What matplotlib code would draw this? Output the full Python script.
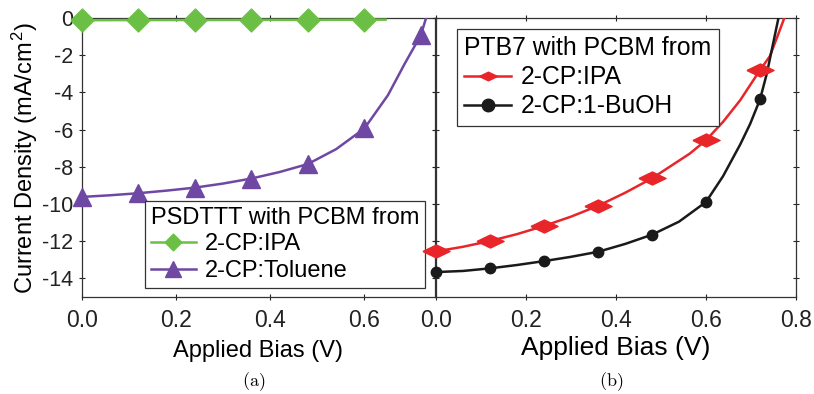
import matplotlib
matplotlib.use("Agg")
import matplotlib.pyplot as plt
from matplotlib.lines import Line2D

plt.rcParams['font.family'] = ['Liberation Sans', 'DejaVu Sans']
plt.rcParams['axes.unicode_minus'] = False
plt.rcParams['mathtext.fontset'] = 'cm'

# ---- Panel (a): PSDTTT with PCBM ----
v_ipa_a = [0.0, 0.12, 0.24, 0.36, 0.48, 0.60, 0.645]
j_ipa_a = [-0.12, -0.11, -0.11, -0.10, -0.10, -0.09, -0.09]
v_ipa_a_mk = [0.0, 0.12, 0.24, 0.36, 0.48, 0.60]
j_ipa_a_mk = [-0.12, -0.11, -0.11, -0.10, -0.10, -0.09]

v_tol = [0.0, 0.06, 0.12, 0.18, 0.24, 0.30, 0.36, 0.42, 0.48, 0.54, 0.60, 0.65, 0.686, 0.72, 0.731]
j_tol = [-9.62, -9.53, -9.42, -9.28, -9.12, -8.90, -8.63, -8.28, -7.85, -7.05, -5.94, -4.15, -2.44, -0.92, 0.0]
v_tol_mk = [0.0, 0.12, 0.24, 0.36, 0.48, 0.60, 0.72]
j_tol_mk = [-9.62, -9.42, -9.12, -8.63, -7.85, -5.94, -0.92]

# ---- Panel (b): PTB7 with PCBM ----
v_ipa_b = [0.0, 0.06, 0.12, 0.18, 0.24, 0.30, 0.36, 0.42, 0.48, 0.564, 0.60, 0.638, 0.676, 0.72, 0.742, 0.764, 0.774]
j_ipa_b = [-12.55, -12.30, -11.99, -11.62, -11.18, -10.68, -10.10, -9.40, -8.62, -7.29, -6.57, -5.58, -4.42, -2.80, -2.05, -0.65, 0.0]
v_ipa_b_mk = [0.0, 0.12, 0.24, 0.36, 0.48, 0.60, 0.72]
j_ipa_b_mk = [-12.55, -11.99, -11.18, -10.10, -8.62, -6.57, -2.80]

v_buoh = [0.0, 0.06, 0.12, 0.18, 0.24, 0.30, 0.36, 0.42, 0.48, 0.54, 0.60, 0.638, 0.676, 0.698, 0.72, 0.735, 0.75, 0.761]
j_buoh = [-13.66, -13.60, -13.46, -13.28, -13.07, -12.84, -12.57, -12.15, -11.65, -10.95, -9.89, -8.50, -6.80, -5.70, -4.38, -3.00, -1.27, 0.0]
v_buoh_mk = [0.0, 0.12, 0.24, 0.36, 0.48, 0.60, 0.72]
j_buoh_mk = [-13.66, -13.46, -13.07, -12.57, -11.65, -9.89, -4.38]

xticks_a = [0.0, 0.2, 0.4, 0.6]
xticks_b = [0.0, 0.2, 0.4, 0.6, 0.8]
yticks = [0, -2, -4, -6, -8, -10, -12, -14]

green = '#6cbf45'
purple = '#6f48a3'
red = '#e8262a'
black = '#1a1a1a'

diamond = [(-1, 0), (0, 1), (1, 0), (0, -1), (-1, 0)]
wide_diamond = [(-1, 0), (0, 0.48), (1, 0), (0, -0.48), (-1, 0)]

fig = plt.figure(figsize=(8.14, 3.94), dpi=100)
ax1 = fig.add_axes([0.1007, 0.2462, 0.4337, 0.7081])
ax2 = fig.add_axes([0.5356, 0.2462, 0.4423, 0.7081])

for ax in (ax1, ax2):
    ax.set_ylim(-15, 0)
    ax.set_yticks(yticks)
    ax.tick_params(direction='inout', length=5, width=0.8, top=True, right=True,
                   colors='#222222')
    ax.tick_params(axis='x', labelsize=16.5, pad=6)
    ax.tick_params(axis='y', labelsize=15.5, pad=4)
    for s in ax.spines.values():
        s.set_linewidth(0.9)
        s.set_color('#333333')

ax1.set_xlim(0, 0.75)
ax1.set_xticks(xticks_a)
ax1.set_xticklabels([f"{t:.1f}" for t in xticks_a])
ax1.set_yticklabels([str(t) for t in yticks])
ax1.set_ylabel('Current Density (mA/cm$^\\mathregular{2}$)', fontsize=17)
ax1.yaxis.set_label_coords(-0.118, 0.5)
ax1.set_xlabel('Applied Bias (V)', fontsize=17, labelpad=6)

ax2.set_xlim(0, 0.8)
ax2.set_xticks(xticks_b)
ax2.set_xticklabels([f"{t:.1f}" for t in xticks_b])
ax2.tick_params(labelleft=False)
ax2.set_xlabel('Applied Bias (V)', fontsize=19, labelpad=3)

lw = 1.8
ax1.plot(v_ipa_a, j_ipa_a, color=green, lw=lw, zorder=3)
ax1.plot(v_ipa_a_mk, j_ipa_a_mk, ls='none', marker=diamond, ms=16.5, color=green,
         mec=green, clip_on=False, zorder=4)
ax1.plot(v_tol, j_tol, color=purple, lw=lw, zorder=3)
ax1.plot(v_tol_mk, j_tol_mk, ls='none', marker='^', ms=13, color=purple,
         clip_on=False, zorder=4)

ax2.plot(v_ipa_b, j_ipa_b, color=red, lw=lw, zorder=3)
ax2.plot(v_ipa_b_mk, j_ipa_b_mk, ls='none', marker=wide_diamond, ms=19.5, color=red,
         clip_on=False, zorder=4)
ax2.plot(v_buoh, j_buoh, color=black, lw=lw, zorder=3)
ax2.plot(v_buoh_mk, j_buoh_mk, ls='none', marker='o', ms=7.5, color=black,
         clip_on=False, zorder=4)

h1 = [Line2D([], [], color=green, lw=lw, marker=diamond, ms=12),
      Line2D([], [], color=purple, lw=lw, marker='^', ms=11)]
leg1 = ax1.legend(h1, ['2-CP:IPA', '2-CP:Toluene'], title='PSDTTT with PCBM from',
                  loc='lower right', bbox_to_anchor=(0.972, 0.032), fontsize=17,
                  title_fontsize=17, alignment='left', fancybox=False, framealpha=1,
                  edgecolor='#333333', borderpad=0.25, labelspacing=0.2,
                  handlelength=1.9, handletextpad=0.4, borderaxespad=0)
leg1.get_frame().set_linewidth(0.9)
leg1.set_zorder(5)

h2 = [Line2D([], [], color=red, lw=lw, marker=wide_diamond, ms=13),
      Line2D([], [], color=black, lw=lw, marker='o', ms=9)]
leg2 = ax2.legend(h2, ['2-CP:IPA', '2-CP:1-BuOH'], title='PTB7 with PCBM from',
                  loc='upper left', bbox_to_anchor=(0.058, 0.961), fontsize=17.8,
                  title_fontsize=17.8, alignment='left', fancybox=False, framealpha=1,
                  edgecolor='#333333', borderpad=0.3, labelspacing=0.2,
                  handlelength=1.9, handletextpad=0.4, borderaxespad=0)
leg2.get_frame().set_linewidth(0.9)

fig.text(254 / 814, 1 - 382 / 394, r'$\mathrm{(a)}$', ha='center', va='center', fontsize=13)
fig.text(611 / 814, 1 - 382 / 394, r'$\mathrm{(b)}$', ha='center', va='center', fontsize=13)

fig.savefig('out.png', dpi=100)
